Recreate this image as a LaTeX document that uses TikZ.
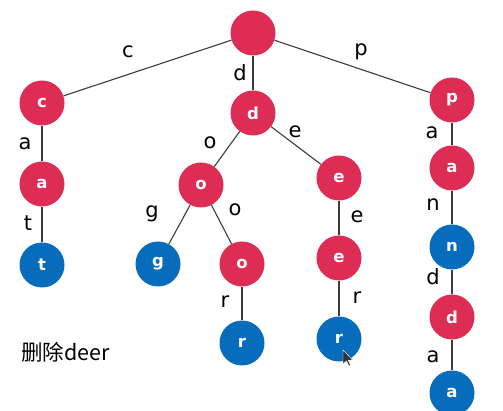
\documentclass[tikz,border=0pt]{standalone}
\usepackage{fontspec}
\setmainfont{DejaVu Sans}
\newfontfamily\cjkfont{Noto Sans CJK SC}
\begin{document}
\definecolor{nodered}{RGB}{221,45,84}
\definecolor{nodeblue}{RGB}{8,108,189}
\definecolor{edgegray}{RGB}{60,60,60}
\begin{tikzpicture}[x=1pt,y=-1pt,
  trienode/.style={circle,fill=nodered,minimum size=45pt,inner sep=0pt,
    text=white,font=\fontsize{16.5}{16.5}\selectfont\bfseries},
  endnode/.style={trienode,fill=nodeblue},
  edge/.style={draw=edgegray,line width=1.1pt},
  elabel/.style={font=\fontsize{21}{21}\selectfont,text=black,inner sep=0pt}]
\useasboundingbox (0,0) rectangle (503,411);
\fill[white] (0,0) rectangle (503,411);

% nodes of the trie
\node[trienode] (root) at (253,33) {};
\node[trienode] (c)  at (42,103) {c};
\node[trienode] (ca) at (42,184) {a};
\node[endnode]  (t)  at (42,265) {t};
\node[trienode] (d)  at (253,113) {d};
\node[trienode] (o)  at (201,185) {o};
\node[endnode]  (g)  at (158,264) {g};
\node[trienode] (oo) at (242,264) {o};
\node[endnode]  (r)  at (242,343) {r};
\node[trienode] (e)  at (339,178) {e};
\node[trienode] (ee) at (339,258) {e};
\node[endnode]  (er) at (339,339) {r};
\node[trienode] (p)  at (452,100) {p};
\node[trienode] (pa) at (452,168) {a};
\node[endnode]  (n)  at (452,247) {n};
\node[trienode] (nd) at (452,317) {d};
\node[endnode]  (da) at (452,393) {a};

% connectors
\draw[edge] (root) -- (c);
\draw[edge] (root) -- (d);
\draw[edge] (root) -- (p);
\draw[edge] (c) -- (ca);
\draw[edge] (ca) -- (t);
\draw[edge] (d) -- (o);
\draw[edge] (d) -- (e);
\draw[edge] (o) -- (g);
\draw[edge] (o) -- (oo);
\draw[edge] (oo) -- (r);
\draw[edge] (e) -- (ee);
\draw[edge] (ee) -- (er);
\draw[edge] (p) -- (pa);
\draw[edge] (pa) -- (n);
\draw[edge] (n) -- (nd);
\draw[edge] (nd) -- (da);

% edge labels
\node[elabel] (lc)  at (128,52)  {c};
\node[elabel] (ld)  at (240,73)  {d};
\node[elabel] (lp)  at (361,52)  {p};
\node[elabel] (la)  at (25,144)  {a};
\node[elabel] (lt)  at (28,223)  {t};
\node[elabel] (lo)  at (210,143) {o};
\node[elabel] (le)  at (295,132) {e};
\node[elabel] (lg)  at (152,214) {g};
\node[elabel] (loo) at (235,210) {o};
\node[elabel] (lr)  at (225,302) {r};
\node[elabel] (lee) at (357,217) {e};
\node[elabel] (ler) at (357,298) {r};
\node[elabel] (lpa) at (432,133) {a};
\node[elabel] (ln)  at (433,205) {n};
\node[elabel] (lnd) at (433,277) {d};
\node[elabel] (lda) at (433,357) {a};

% caption
\node[anchor=west,inner sep=0pt,font=\cjkfont\fontsize{21.5}{21.5}\selectfont] (cap) at (21,352) {删除deer};

% pointer
\filldraw[fill=black!80,draw=white,line width=0.4pt]
  (343,350) -- (343,364) -- (346.5,361) -- (349,366) -- (350.5,365.2) -- (348.2,360.3) -- (352.5,360) -- cycle;
\end{tikzpicture}
\end{document}
